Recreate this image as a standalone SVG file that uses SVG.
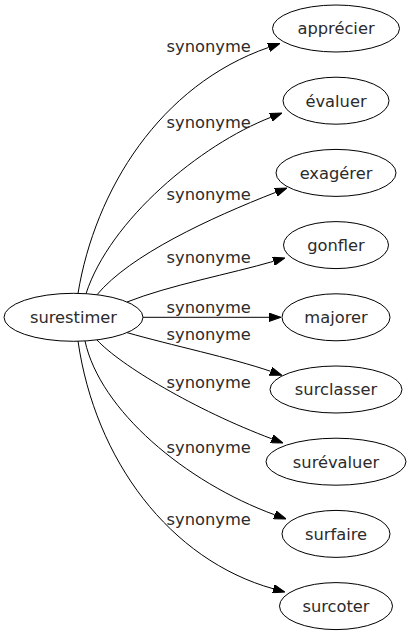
<svg xmlns="http://www.w3.org/2000/svg" width="411" height="635" viewBox="0 0 411 635">
<defs>
<style>
.n ellipse{fill:#fff;stroke:#000;stroke-width:1}
text{font-family:"DejaVu Sans",sans-serif;font-size:16.3px;fill:#2b2b2b;text-anchor:middle}
.e path{fill:none;stroke:#000;stroke-width:1}
</style>
<marker id="arr" markerUnits="userSpaceOnUse" markerWidth="12" markerHeight="9" viewBox="0 -4.5 12 9" refX="0" refY="0" orient="auto">
<path d="M0,-4.2 L12,0 L0,4.2 z" fill="#000" stroke="#000" stroke-width="1"/>
</marker>
</defs>
<rect width="411" height="635" fill="#fff"/>
<g id="edges" class="e">
<path d="M78,293.4 C95,190 160,85 268.7,47.4" marker-end="url(#arr)"/>
<path d="M86,293.7 C110,220 200,145 270.8,117.3" marker-end="url(#arr)"/>
<path d="M97,294.7 C130,255 210,218 275.8,192.3" marker-end="url(#arr)"/>
<path d="M127,302 C170,285 230,274 273.5,261.3" marker-end="url(#arr)"/>
<path d="M143,317.3 L269,317.3" marker-end="url(#arr)"/>
<path d="M127,332.6 C170,345 232,358 270.6,371.3" marker-end="url(#arr)"/>
<path d="M97,340 C120,365 195,410 271.8,438.8" marker-end="url(#arr)"/>
<path d="M85,341 C100,410 185,482 274.7,514.8" marker-end="url(#arr)"/>
<path d="M78,341 C95,460 170,560 273.4,588.8" marker-end="url(#arr)"/>
<text x="208.7" y="52">synonyme</text>
<text x="208.7" y="128">synonyme</text>
<text x="208.7" y="200">synonyme</text>
<text x="208.7" y="263.3">synonyme</text>
<text x="208.7" y="312.7">synonyme</text>
<text x="208.7" y="339.5">synonyme</text>
<text x="208.7" y="388.3">synonyme</text>
<text x="208.7" y="453.3">synonyme</text>
<text x="208.7" y="525">synonyme</text>
</g>
<g id="surestimer" class="n"><ellipse cx="73.5" cy="317.3" rx="69.5" ry="24"/><text x="73.5" y="323.1">surestimer</text></g>
<g id="apprecier" class="n"><ellipse cx="336" cy="28.5" rx="63.5" ry="23.5"/><text x="336" y="34.3">apprécier</text></g>
<g id="evaluer" class="n"><ellipse cx="336" cy="100.7" rx="53" ry="23.5"/><text x="336" y="106.5">évaluer</text></g>
<g id="exagerer" class="n"><ellipse cx="336" cy="172.9" rx="60" ry="23.5"/><text x="336" y="178.7">exagérer</text></g>
<g id="gonfler" class="n"><ellipse cx="336" cy="245.1" rx="52.5" ry="23.5"/><text x="336" y="250.9">gonfler</text></g>
<g id="majorer" class="n"><ellipse cx="336" cy="317.3" rx="54" ry="23.5"/><text x="336" y="323.1">majorer</text></g>
<g id="surclasser" class="n"><ellipse cx="336" cy="389.5" rx="66" ry="23.5"/><text x="336" y="395.3">surclasser</text></g>
<g id="surevaluer" class="n"><ellipse cx="336" cy="461.7" rx="70" ry="23.5"/><text x="336" y="467.5">surévaluer</text></g>
<g id="surfaire" class="n"><ellipse cx="336" cy="533.9" rx="54" ry="23.5"/><text x="336" y="539.7">surfaire</text></g>
<g id="surcoter" class="n"><ellipse cx="336" cy="606.1" rx="56.5" ry="23.5"/><text x="336" y="611.9">surcoter</text></g>
</svg>
